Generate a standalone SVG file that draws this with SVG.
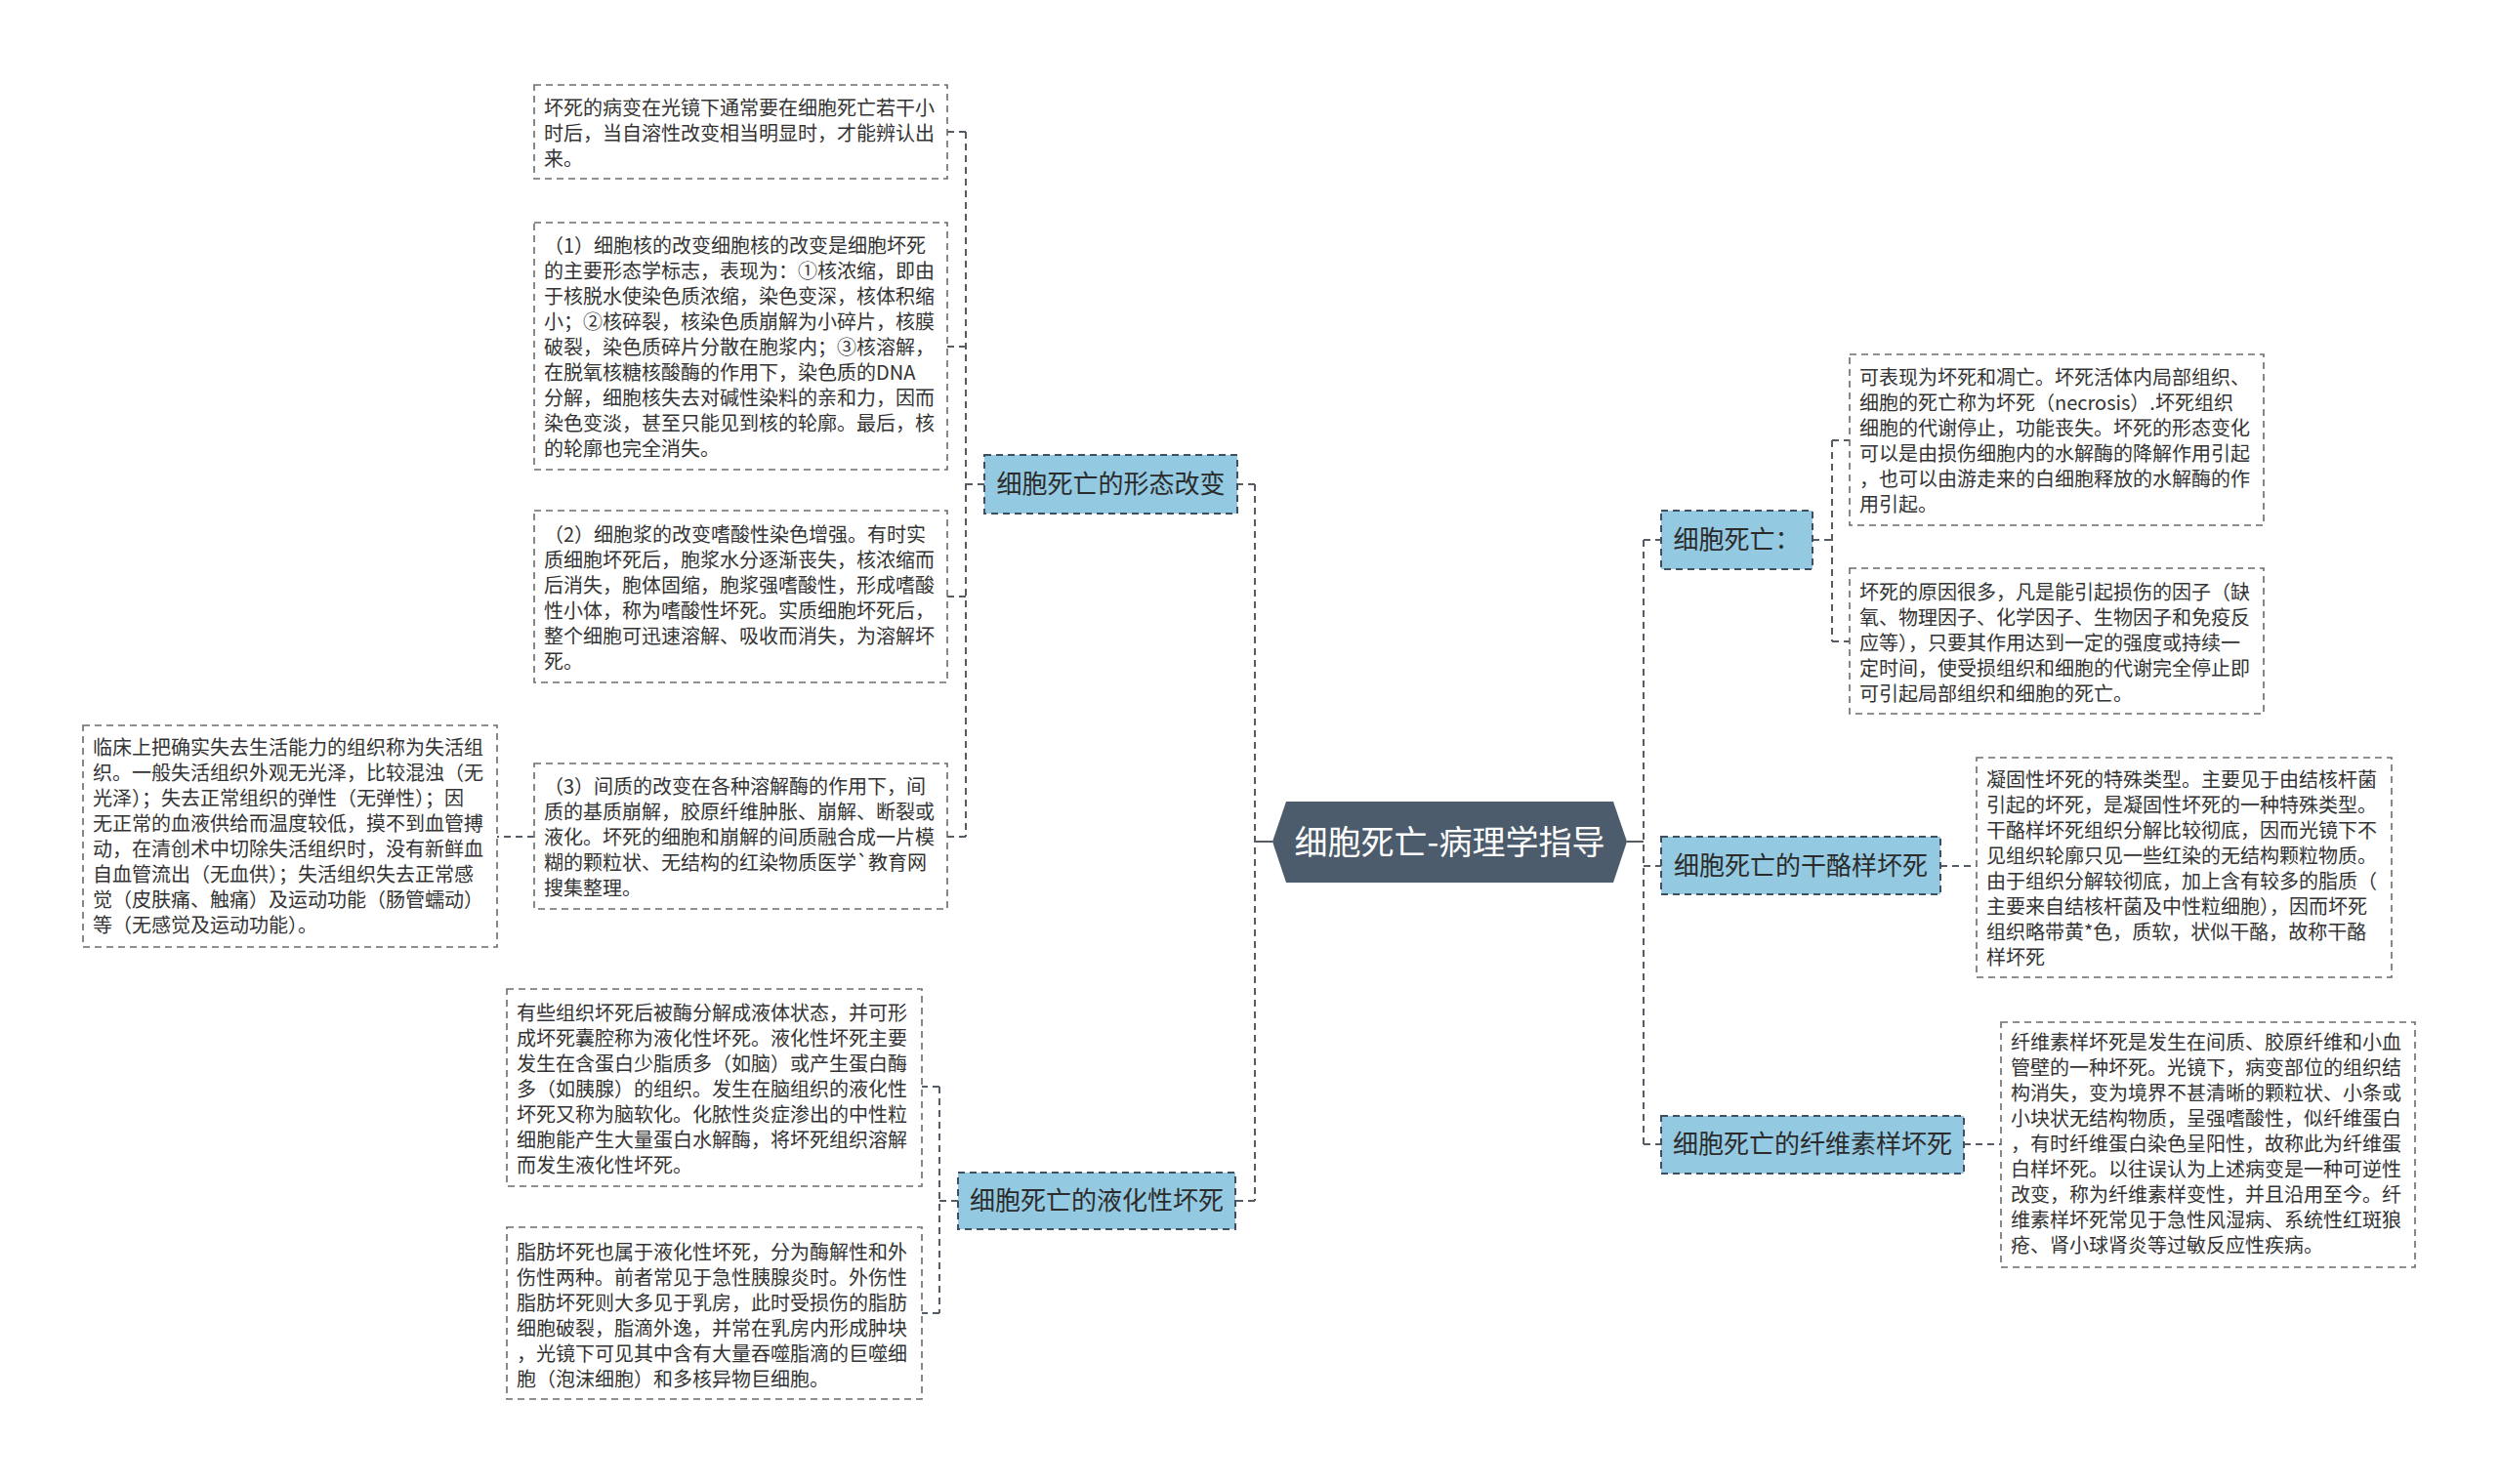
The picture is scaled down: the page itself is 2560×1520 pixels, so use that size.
<svg xmlns="http://www.w3.org/2000/svg" width="2560" height="1520" viewBox="0 0 2560 1520">
<style>
.bg{fill:#ffffff}
.conn{fill:none;stroke:#555c63;stroke-width:2;stroke-dasharray:7 5}
.solid{fill:none;stroke:#555c63;stroke-width:2}
.tb{fill:#ffffff;stroke:#6b6b6b;stroke-width:1.6;stroke-dasharray:7 5}
.br{fill:#94c9e2;stroke:#3f4f5f;stroke-width:2;stroke-dasharray:7 5}
.root{fill:#4c5c6c}
.t{font-family:"Noto Sans CJK SC","Noto Sans",sans-serif;font-size:20px;fill:#333333}
.bt{font-family:"Noto Sans CJK SC","Noto Sans",sans-serif;font-size:26px;fill:#2b2b2b;text-anchor:middle}
.rt{font-family:"Noto Sans CJK SC","Noto Sans",sans-serif;font-size:34px;fill:#ffffff;text-anchor:middle}
</style>
<rect class="bg" x="0" y="0" width="2560" height="1520"/>

<g id="connectors">
  <!-- root to trunks -->
  <path class="solid" d="M1303 862 H1285"/>
  <path class="solid" d="M1666 862 H1683"/>
  <!-- left trunk -->
  <path class="conn" d="M1285 496 V1230"/>
  <path class="conn" d="M1285 496 H1267"/>
  <path class="conn" d="M1285 1230 H1265"/>
  <!-- right trunk -->
  <path class="conn" d="M1683 553 V1172"/>
  <path class="conn" d="M1683 553 H1701"/>
  <path class="conn" d="M1683 887 H1701"/>
  <path class="conn" d="M1683 1172 H1701"/>
  <!-- morph subtree -->
  <path class="conn" d="M1008 496 H989"/>
  <path class="conn" d="M989 135 V857"/>
  <path class="conn" d="M989 135 H970"/>
  <path class="conn" d="M989 355 H970"/>
  <path class="conn" d="M989 611 H970"/>
  <path class="conn" d="M989 857 H970"/>
  <path class="conn" d="M547 857 H509"/>
  <!-- liquefaction subtree -->
  <path class="conn" d="M981 1230 H962"/>
  <path class="conn" d="M962 1113 V1345"/>
  <path class="conn" d="M962 1113 H944"/>
  <path class="conn" d="M962 1345 H944"/>
  <!-- cell death subtree -->
  <path class="conn" d="M1856 553 H1876"/>
  <path class="conn" d="M1876 451 V657"/>
  <path class="conn" d="M1876 451 H1894"/>
  <path class="conn" d="M1876 657 H1894"/>
  <!-- caseous / fibrinoid -->
  <path class="conn" d="M1987 887 H2024"/>
  <path class="conn" d="M2011 1172 H2049"/>
</g>

<g id="root">
  <polygon class="root" points="1303,862 1317,821 1652,821 1666,862 1652,904 1317,904"/>
  <text class="rt" x="1484.5" y="875">细胞死亡-病理学指导</text>
</g>

<g id="branch-morph">
  <rect class="br" x="1008" y="466" width="259" height="60"/>
  <text class="bt" x="1137.5" y="505">细胞死亡的形态改变</text>
</g>

<g id="branch-liquef">
  <rect class="br" x="981" y="1201" width="284" height="58"/>
  <text class="bt" x="1123" y="1239">细胞死亡的液化性坏死</text>
</g>

<g id="branch-death">
  <rect class="br" x="1701" y="523" width="155" height="60"/>
  <text class="bt" x="1778.5" y="562">细胞死亡：</text>
</g>

<g id="branch-caseous">
  <rect class="br" x="1701" y="857" width="286" height="59"/>
  <text class="bt" x="1844" y="896">细胞死亡的干酪样坏死</text>
</g>

<g id="branch-fibrinoid">
  <rect class="br" x="1701" y="1143" width="310" height="59"/>
  <text class="bt" x="1856" y="1181">细胞死亡的纤维素样坏死</text>
</g>

<g id="box-a">
  <rect class="tb" x="547" y="87" width="423" height="96"/>
  <text class="t" x="557" y="118">
    <tspan x="557" y="118">坏死的病变在光镜下通常要在细胞死亡若干小</tspan>
    <tspan x="557" y="144">时后，当自溶性改变相当明显时，才能辨认出</tspan>
    <tspan x="557" y="170">来。</tspan>
  </text>
</g>

<g id="box-b">
  <rect class="tb" x="547" y="228" width="423" height="253"/>
  <text class="t">
    <tspan x="557" y="259">（1）细胞核的改变细胞核的改变是细胞坏死</tspan>
    <tspan x="557" y="285">的主要形态学标志，表现为：①核浓缩，即由</tspan>
    <tspan x="557" y="311">于核脱水使染色质浓缩，染色变深，核体积缩</tspan>
    <tspan x="557" y="337">小；②核碎裂，核染色质崩解为小碎片，核膜</tspan>
    <tspan x="557" y="363">破裂，染色质碎片分散在胞浆内；③核溶解，</tspan>
    <tspan x="557" y="389">在脱氧核糖核酸酶的作用下，染色质的DNA</tspan>
    <tspan x="557" y="415">分解，细胞核失去对碱性染料的亲和力，因而</tspan>
    <tspan x="557" y="441">染色变淡，甚至只能见到核的轮廓。最后，核</tspan>
    <tspan x="557" y="467">的轮廓也完全消失。</tspan>
  </text>
</g>

<g id="box-c">
  <rect class="tb" x="547" y="523" width="423" height="176"/>
  <text class="t">
    <tspan x="557" y="555">（2）细胞浆的改变嗜酸性染色增强。有时实</tspan>
    <tspan x="557" y="581">质细胞坏死后，胞浆水分逐渐丧失，核浓缩而</tspan>
    <tspan x="557" y="607">后消失，胞体固缩，胞浆强嗜酸性，形成嗜酸</tspan>
    <tspan x="557" y="633">性小体，称为嗜酸性坏死。实质细胞坏死后，</tspan>
    <tspan x="557" y="659">整个细胞可迅速溶解、吸收而消失，为溶解坏</tspan>
    <tspan x="557" y="685">死。</tspan>
  </text>
</g>

<g id="box-d">
  <rect class="tb" x="547" y="782" width="423" height="149"/>
  <text class="t">
    <tspan x="557" y="813">（3）间质的改变在各种溶解酶的作用下，间</tspan>
    <tspan x="557" y="839">质的基质崩解，胶原纤维肿胀、崩解、断裂或</tspan>
    <tspan x="557" y="865">液化。坏死的细胞和崩解的间质融合成一片模</tspan>
    <tspan x="557" y="891">糊的颗粒状、无结构的红染物质医学`教育网</tspan>
    <tspan x="557" y="917">搜集整理。</tspan>
  </text>
</g>

<g id="box-e">
  <rect class="tb" x="85" y="743" width="424" height="227"/>
  <text class="t">
    <tspan x="95" y="773">临床上把确实失去生活能力的组织称为失活组</tspan>
    <tspan x="95" y="799">织。一般失活组织外观无光泽，比较混浊（无</tspan>
    <tspan x="95" y="825">光泽）；失去正常组织的弹性（无弹性）；因</tspan>
    <tspan x="95" y="851">无正常的血液供给而温度较低，摸不到血管搏</tspan>
    <tspan x="95" y="877">动，在清创术中切除失活组织时，没有新鲜血</tspan>
    <tspan x="95" y="903">自血管流出（无血供）；失活组织失去正常感</tspan>
    <tspan x="95" y="929">觉（皮肤痛、触痛）及运动功能（肠管蠕动）</tspan>
    <tspan x="95" y="955">等（无感觉及运动功能）。</tspan>
  </text>
</g>

<g id="box-f">
  <rect class="tb" x="519" y="1013" width="425" height="202"/>
  <text class="t">
    <tspan x="529" y="1045">有些组织坏死后被酶分解成液体状态，并可形</tspan>
    <tspan x="529" y="1071">成坏死囊腔称为液化性坏死。液化性坏死主要</tspan>
    <tspan x="529" y="1097">发生在含蛋白少脂质多（如脑）或产生蛋白酶</tspan>
    <tspan x="529" y="1123">多（如胰腺）的组织。发生在脑组织的液化性</tspan>
    <tspan x="529" y="1149">坏死又称为脑软化。化脓性炎症渗出的中性粒</tspan>
    <tspan x="529" y="1175">细胞能产生大量蛋白水解酶，将坏死组织溶解</tspan>
    <tspan x="529" y="1201">而发生液化性坏死。</tspan>
  </text>
</g>

<g id="box-g">
  <rect class="tb" x="519" y="1257" width="425" height="176"/>
  <text class="t">
    <tspan x="529" y="1290">脂肪坏死也属于液化性坏死，分为酶解性和外</tspan>
    <tspan x="529" y="1316">伤性两种。前者常见于急性胰腺炎时。外伤性</tspan>
    <tspan x="529" y="1342">脂肪坏死则大多见于乳房，此时受损伤的脂肪</tspan>
    <tspan x="529" y="1368">细胞破裂，脂滴外逸，并常在乳房内形成肿块</tspan>
    <tspan x="529" y="1394">，光镜下可见其中含有大量吞噬脂滴的巨噬细</tspan>
    <tspan x="529" y="1420">胞（泡沫细胞）和多核异物巨细胞。</tspan>
  </text>
</g>

<g id="box-h">
  <rect class="tb" x="1894" y="363" width="424" height="175"/>
  <text class="t">
    <tspan x="1904" y="394">可表现为坏死和凋亡。坏死活体内局部组织、</tspan>
    <tspan x="1904" y="420">细胞的死亡称为坏死（necrosis）.坏死组织</tspan>
    <tspan x="1904" y="446">细胞的代谢停止，功能丧失。坏死的形态变化</tspan>
    <tspan x="1904" y="472">可以是由损伤细胞内的水解酶的降解作用引起</tspan>
    <tspan x="1904" y="498">，也可以由游走来的白细胞释放的水解酶的作</tspan>
    <tspan x="1904" y="524">用引起。</tspan>
  </text>
</g>

<g id="box-i">
  <rect class="tb" x="1894" y="582" width="424" height="149"/>
  <text class="t">
    <tspan x="1904" y="614">坏死的原因很多，凡是能引起损伤的因子（缺</tspan>
    <tspan x="1904" y="640">氧、物理因子、化学因子、生物因子和免疫反</tspan>
    <tspan x="1904" y="666">应等），只要其作用达到一定的强度或持续一</tspan>
    <tspan x="1904" y="692">定时间，使受损组织和细胞的代谢完全停止即</tspan>
    <tspan x="1904" y="718">可引起局部组织和细胞的死亡。</tspan>
  </text>
</g>

<g id="box-j">
  <rect class="tb" x="2024" y="776" width="425" height="225"/>
  <text class="t">
    <tspan x="2034" y="806">凝固性坏死的特殊类型。主要见于由结核杆菌</tspan>
    <tspan x="2034" y="832">引起的坏死，是凝固性坏死的一种特殊类型。</tspan>
    <tspan x="2034" y="858">干酪样坏死组织分解比较彻底，因而光镜下不</tspan>
    <tspan x="2034" y="884">见组织轮廓只见一些红染的无结构颗粒物质。</tspan>
    <tspan x="2034" y="910">由于组织分解较彻底，加上含有较多的脂质（</tspan>
    <tspan x="2034" y="936">主要来自结核杆菌及中性粒细胞），因而坏死</tspan>
    <tspan x="2034" y="962">组织略带黄*色，质软，状似干酪，故称干酪</tspan>
    <tspan x="2034" y="988">样坏死</tspan>
  </text>
</g>

<g id="box-k">
  <rect class="tb" x="2049" y="1047" width="424" height="251"/>
  <text class="t">
    <tspan x="2059" y="1075">纤维素样坏死是发生在间质、胶原纤维和小血</tspan>
    <tspan x="2059" y="1101">管壁的一种坏死。光镜下，病变部位的组织结</tspan>
    <tspan x="2059" y="1127">构消失，变为境界不甚清晰的颗粒状、小条或</tspan>
    <tspan x="2059" y="1153">小块状无结构物质，呈强嗜酸性，似纤维蛋白</tspan>
    <tspan x="2059" y="1179">，有时纤维蛋白染色呈阳性，故称此为纤维蛋</tspan>
    <tspan x="2059" y="1205">白样坏死。以往误认为上述病变是一种可逆性</tspan>
    <tspan x="2059" y="1231">改变，称为纤维素样变性，并且沿用至今。纤</tspan>
    <tspan x="2059" y="1257">维素样坏死常见于急性风湿病、系统性红斑狼</tspan>
    <tspan x="2059" y="1283">疮、肾小球肾炎等过敏反应性疾病。</tspan>
  </text>
</g>
</svg>
